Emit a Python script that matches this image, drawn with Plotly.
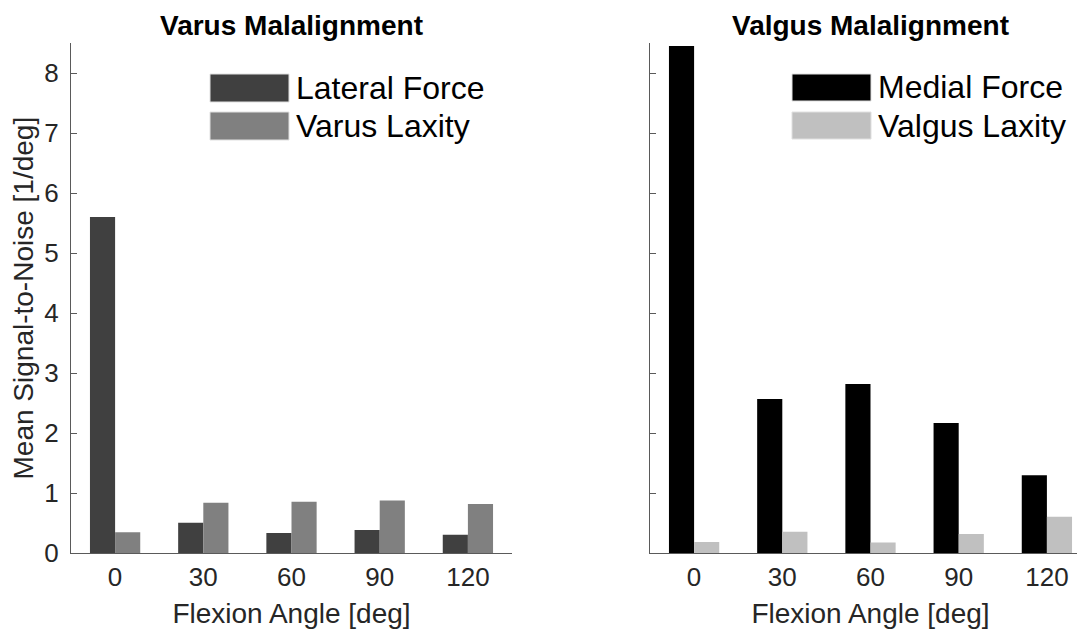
import plotly.graph_objects as go

# ---- data ----
angles = ["0", "30", "60", "90", "120"]
lateral_force = [5.60, 0.51, 0.34, 0.39, 0.31]
varus_laxity = [0.35, 0.84, 0.86, 0.88, 0.82]
medial_force = [8.45, 2.57, 2.82, 2.17, 1.30]
valgus_laxity = [0.19, 0.36, 0.18, 0.32, 0.61]
y_ticks = [0, 1, 2, 3, 4, 5, 6, 7, 8]
titles = ["Varus Malalignment", "Valgus Malalignment"]
names_left = ["Lateral Force", "Varus Laxity"]
names_right = ["Medial Force", "Valgus Laxity"]

# ---- styles ----
W, H = 1085, 635
OFF = 8  # page body margin compensation
C_LAT, C_VAR, C_MED, C_VAL = "#404040", "#808080", "#000000", "#c0c0c0"
FONT = "Liberation Sans, Arial, Helvetica, sans-serif"
AXC = "#5a5a5a"
TXT = "#262626"


def px(x):
    return (x - OFF) / W


def py(y):
    return 1 - (y - OFF) / H


fig = go.Figure()
fig.add_trace(go.Bar(x=angles, y=lateral_force, name=names_left[0], marker=dict(color=C_LAT, line=dict(width=0)),
                     xaxis="x", yaxis="y", showlegend=False))
fig.add_trace(go.Bar(x=angles, y=varus_laxity, name=names_left[1], marker=dict(color=C_VAR, line=dict(width=0)),
                     xaxis="x", yaxis="y", showlegend=False))
fig.add_trace(go.Bar(x=angles, y=medial_force, name=names_right[0], marker=dict(color=C_MED, line=dict(width=0)),
                     xaxis="x2", yaxis="y2", showlegend=False))
fig.add_trace(go.Bar(x=angles, y=valgus_laxity, name=names_right[1], marker=dict(color=C_VAL, line=dict(width=0)),
                     xaxis="x2", yaxis="y2", showlegend=False))

y_dom = [py(553.3), py(43)]
xl = [px(71), px(512)]
xr = [px(650), px(1091)]

common_x = dict(type="category", showline=True, linecolor=AXC, linewidth=1, ticks="", automargin=False,
                range=[-0.5, 4.5],
                tickfont=dict(family=FONT, size=26, color=TXT), showgrid=False, zeroline=False,
                title=dict(text="Flexion Angle [deg]", font=dict(family=FONT, size=28, color=TXT), standoff=12))
common_y = dict(range=[0, 8.5], tickvals=y_ticks, showline=True, linecolor=AXC, linewidth=1, automargin=False,
                ticks="inside", ticklen=6, tickcolor=AXC, showgrid=False, zeroline=False, domain=y_dom)

fig.update_layout(
    width=W, height=H,
    margin=dict(l=0, r=0, t=0, b=0, autoexpand=False),
    paper_bgcolor="white", plot_bgcolor="white",
    barmode="group", bargap=0.43, bargroupgap=0,
    xaxis=dict(domain=xl, anchor="y", **common_x),
    xaxis2=dict(domain=xr, anchor="y2", **common_x),
    yaxis=dict(anchor="x", tickfont=dict(family=FONT, size=26, color=TXT), ticklabelstandoff=6,
               title=dict(text="Mean Signal-to-Noise [1/deg]", font=dict(family=FONT, size=28, color=TXT), standoff=4),
               **common_y),
    yaxis2=dict(anchor="x2", showticklabels=False, **common_y),
    font=dict(family=FONT, color=TXT),
)

# panel titles
for t, cx in zip(titles, [(71 + 512) / 2, (650 + 1091) / 2]):
    fig.add_annotation(text="<b>%s</b>" % t, x=px(cx), y=py(25), xref="paper", yref="paper",
                       showarrow=False, xanchor="center", yanchor="middle",
                       font=dict(family=FONT, size=28, color="black"))

# legends (patch + label)
def legend(names, colors, x0, ys):
    for n, c, (ya, yb) in zip(names, colors, ys):
        fig.add_shape(type="rect", xref="paper", yref="paper", x0=px(x0), x1=px(x0 + 79),
                      y0=py(yb), y1=py(ya), fillcolor=c, line=dict(width=1, color="#e0e0e0"), layer="above")
        fig.add_annotation(text=n, x=px(x0 + 84), y=py((ya + yb) / 2), xref="paper", yref="paper",
                           showarrow=False, xanchor="left", yanchor="middle",
                           font=dict(family=FONT, size=32, color="black"))


legend(names_left, [C_LAT, C_VAR], 210, [(74, 102), (112, 140)])
legend(names_right, [C_MED, C_VAL], 792, [(74, 101), (112, 139)])

fig.write_html("out.html")
